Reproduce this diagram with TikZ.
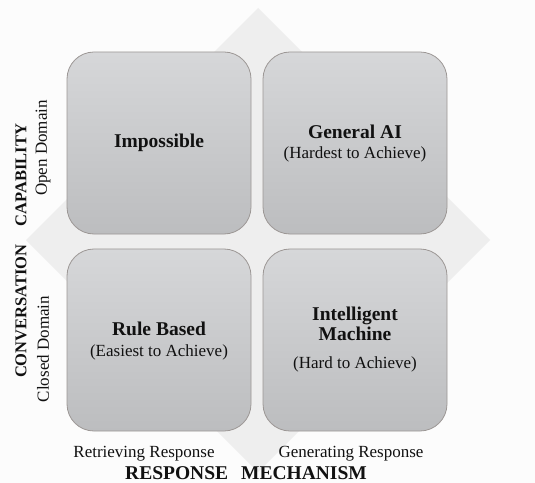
\documentclass[tikz,border=0pt]{standalone}
\usepackage{fontspec}
\setmainfont{Liberation Serif}
\usetikzlibrary{shapes.geometric}
\definecolor{bgc}{HTML}{FCFCFC}
\definecolor{diam}{HTML}{EEEEEE}
\definecolor{boxtop}{HTML}{D6D7D9}
\definecolor{boxbot}{HTML}{BCBDBF}
\definecolor{boxline}{HTML}{9C9795}
\definecolor{ink}{HTML}{111111}
\tikzset{
  quad/.style={draw=boxline, line width=0.8bp, rounded corners=27bp,
    top color=boxtop, bottom color=boxbot, minimum width=184bp,
    minimum height=182bp, inner sep=0pt},
  ttl/.style={font=\fontsize{19.5bp}{22bp}\selectfont\bfseries, text=ink, anchor=mid, inner sep=0pt},
  sub/.style={font=\fontsize{17bp}{20bp}\selectfont, text=ink, anchor=mid, inner sep=0pt},
  axisttl/.style={font=\fontsize{16.5bp}{20bp}\selectfont\bfseries, text=ink, inner sep=0pt},
  axissub/.style={font=\fontsize{17bp}{20bp}\selectfont, text=ink, inner sep=0pt},
}
\begin{document}
\begin{tikzpicture}[x=1bp,y=-1bp]
\fill[bgc] (0,0) rectangle (535,483);
\useasboundingbox (0,0) rectangle (535,483);
\fill[diam] (258,8) -- (490,240) -- (258,472) -- (26,240) -- cycle;
\node[quad] (tl) at (159,143) {};
\node[quad] (tr) at (355,143) {};
\node[quad] (bl) at (159,340) {};
\node[quad] (br) at (355,340) {};
\node[ttl] (imp) at (159,145) {Impossible};
\node[ttl] (gai) at (355,136) {General AI};
\node[sub] (gais) at (355,156) {(Hardest to Achieve)};
\node[ttl] (rb) at (159,333) {Rule Based};
\node[sub] (rbs) at (159,354) {(Easiest to Achieve)};
\node[ttl] (im1) at (355,318) {Intelligent};
\node[ttl] (im2) at (355,338) {Machine};
\node[sub] (ims) at (355,366) {(Hard to Achieve)};
\node[axisttl, rotate=90] (cc) at (21,251) {CONVERSATION\hspace{18bp}CAPABILITY};
\node[axissub, rotate=90] (od) at (43,148) {Open Domain};
\node[axissub, rotate=90] (cd) at (43,349) {Closed Domain};
\node[sub] (rr) at (144,455) {Retrieving Response};
\node[sub] (gr) at (351,455) {Generating Response};
\node[ttl] (rm) at (246,477) {RESPONSE\hspace{13bp}MECHANISM};
\end{tikzpicture}
\end{document}
